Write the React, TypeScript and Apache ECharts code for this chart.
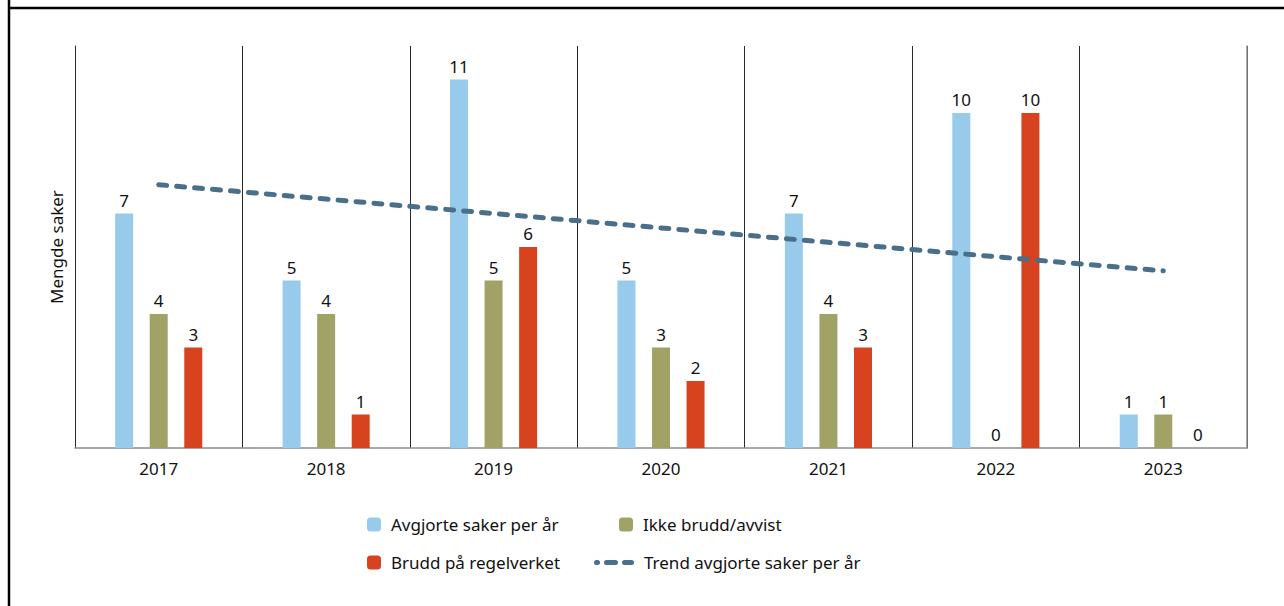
import React, { useEffect, useRef } from "react";
import * as echarts from "echarts";

const years = ["2017", "2018", "2019", "2020", "2021", "2022", "2023"];
const avgjorte = [7, 5, 11, 5, 7, 10, 1];
const ikkeBrudd = [4, 4, 5, 3, 4, 0, 1];
const brudd = [3, 1, 6, 2, 3, 10, 0];
const trend = [7.86, 7.43, 7.0, 6.57, 6.14, 5.71, 5.29];

const names = [
  "Avgjorte saker per år",
  "Ikke brudd/avvist",
  "Brudd på regelverket",
  "Trend avgjorte saker per år",
];
const colors = ["#98cbeb", "#a1a266", "#d6431e", "#4a6f8a"];

const FONT = "'Noto Sans', 'Open Sans', sans-serif";

function capsule(a: number, b: number) {
  return `M${a + 2.5},0 H${b - 2.5} A2.5,2.5 0 0 1 ${b - 2.5},5 H${a + 2.5} A2.5,2.5 0 0 1 ${a + 2.5},0 Z`;
}
const dashIcon = "path://" + capsule(0, 6) + " " + capsule(10, 24) + " " + capsule(28, 40);

export default function App() {
  const ref = useRef<HTMLDivElement>(null);
  useEffect(() => {
    const chart = echarts.init(ref.current!, undefined, { renderer: "svg" });
    const label = {
      show: true,
      position: "top" as const,
      distance: 5,
      color: "#111",
      fontSize: 17,
      fontFamily: FONT,
    };
    const legendBase = {
      itemWidth: 14,
      itemHeight: 14,
      itemGap: 10,
      textStyle: { fontSize: 17, color: "#111", fontFamily: FONT, padding: [0, 0, 0, 5] },
      padding: 0,
    };
    chart.setOption({
      animation: false,
      grid: { left: 75, right: 37, top: 46, bottom: 158 },
      legend: [
        { ...legendBase, data: [names[0]], left: 367, top: 516 },
        { ...legendBase, data: [names[1]], left: 619, top: 516 },
        { ...legendBase, data: [names[2]], left: 367, top: 554 },
        {
          ...legendBase,
          itemWidth: 40,
          itemHeight: 5,
          data: [{ name: names[3], icon: dashIcon, itemStyle: { color: colors[3] } }],
          left: 594,
          top: 554,
        },
      ],
      graphic: [
        { type: "line", shape: { x1: 9, y1: 0, x2: 9, y2: 606 }, style: { stroke: "#000", lineWidth: 2.5 } },
        { type: "line", shape: { x1: 8, y1: 8, x2: 1284, y2: 8 }, style: { stroke: "#000", lineWidth: 2.5 } },
      ],
      xAxis: {
        type: "category",
        data: years,
        axisLine: { show: true, lineStyle: { color: "#8c8c8c", width: 1.5 } },
        axisTick: { show: false },
        axisLabel: { color: "#111", fontSize: 17, fontFamily: FONT, margin: 12 },
        splitLine: { show: true, lineStyle: { color: "#2a2a2a", width: 1 } },
      },
      yAxis: [
        {
          type: "value",
          min: 0,
          max: 12,
          interval: 1,
          name: "Mengde saker",
          nameLocation: "middle",
          nameGap: 10,
          nameTextStyle: { fontSize: 17, color: "#111", fontFamily: FONT },
          axisLine: { show: true, lineStyle: { color: "#2a2a2a", width: 1 } },
          axisTick: { show: false },
          axisLabel: { show: false },
          splitLine: { show: false },
        },
        {
          type: "value",
          min: 0,
          max: 12,
          interval: 1,
          position: "right",
          axisLine: { show: true, lineStyle: { color: "#8c8c8c", width: 1.5 } },
          axisTick: { show: false },
          axisLabel: { show: false },
          splitLine: { show: false },
        },
      ],
      series: [
        { name: names[0], type: "bar", data: avgjorte, barWidth: 18, barGap: "92%", itemStyle: { color: colors[0] }, label },
        { name: names[1], type: "bar", data: ikkeBrudd, barWidth: 18, barGap: "92%", itemStyle: { color: colors[1] }, label },
        { name: names[2], type: "bar", data: brudd, barWidth: 18, barGap: "92%", itemStyle: { color: colors[2] }, label },
        {
          name: names[3],
          type: "line",
          data: trend,
          symbol: "none",
          z: 5,
          lineStyle: { color: colors[3], width: 5, type: [8, 10], cap: "round" },
          itemStyle: { color: colors[3] },
        },
      ],
    });
    return () => chart.dispose();
  }, []);
  return <div ref={ref} style={{ width: 1284, height: 606, position: "absolute", left: 0, top: 0 }} />;
}
